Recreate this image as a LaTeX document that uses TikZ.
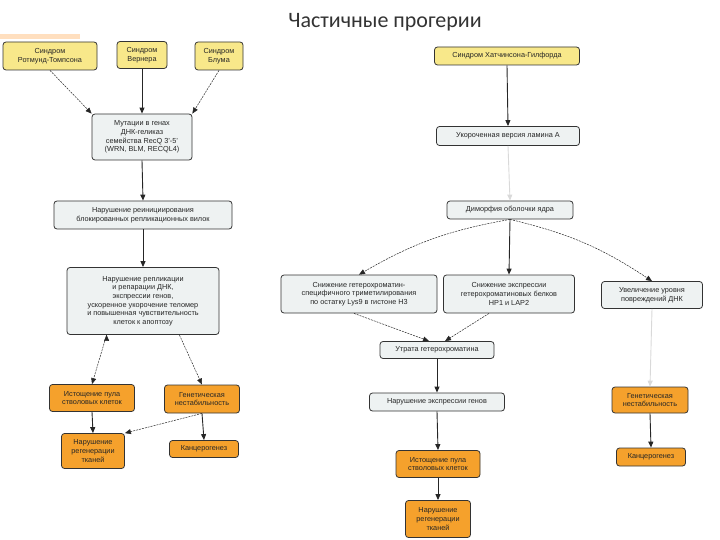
\documentclass[tikz,border=0pt]{standalone}
\usepackage{fontspec}
\setmainfont{Liberation Sans}
\newfontfamily\titlefont{Carlito}
\usetikzlibrary{arrows.meta}
\definecolor{ylw}{HTML}{F8E88A}
\definecolor{gry}{HTML}{EEF2F2}
\definecolor{org}{HTML}{F5A12C}
\begin{document}
\begin{tikzpicture}[x=1pt,y=-1pt,
  base/.style={draw=black!80,rounded corners=3pt,line width=0.8pt,align=center,inner sep=1pt,
    font=\fontsize{7.3}{8.6}\selectfont,text=black!85},
  yb/.style={base,fill=ylw},
  gb/.style={base,fill=gry},
  ob/.style={base,fill=org},
  arr/.style={-{Triangle[length=6pt,width=5pt]},line width=0.9pt,black!85},
  darr/.style={-{Triangle[length=6pt,width=5pt]},line width=0.5pt,black!85,dash pattern=on 2pt off 1pt},
  larr/.style={-{Triangle[length=6pt,width=5pt]},line width=0.9pt,black!85,draw=black!15}]
\useasboundingbox (0,0) rectangle (720,540);
\fill[orange!25] (0,34) rectangle (80,39);
\node[font=\titlefont\fontsize{22}{24}\selectfont,text=black!80] (title) at (385,22) {Частичные прогерии};
% left column
\node[yb,minimum width=94,minimum height=28] (a1) at (50,56) {Синдром\\Ротмунд-Томпсона};
\node[yb,minimum width=50,minimum height=27] (a2) at (142,55) {Синдром\\Вернера};
\node[yb,minimum width=48,minimum height=28] (a3) at (219,56) {Синдром\\Блума};
\node[gb,minimum width=100,minimum height=46] (m) at (142,137) {Мутации в генах\\ДНК-геликаз\\семейства RecQ 3'-5'\\(WRN, BLM, RECQL4)};
\node[gb,minimum width=178,minimum height=28] (n1) at (143,215) {Нарушение реинициирования\\блокированных репликационных вилок};
\node[gb,minimum width=152,minimum height=67] (n2) at (143,301) {Нарушение репликации\\и репарации ДНК,\\экспрессии генов,\\ускоренное укорочение теломер\\и повышенная чувствительность\\клеток к апоптозу};
\node[ob,minimum width=85,minimum height=27] (o1) at (92,398) {Истощение пула\\стволовых клеток};
\node[ob,minimum width=75,minimum height=28] (o2) at (202,399) {Генетическая\\нестабильность};
\node[ob,minimum width=63,minimum height=35] (o3) at (93,451) {Нарушение\\регенерации\\тканей};
\node[ob,minimum width=69,minimum height=17] (o4) at (204,449) {Канцерогенез};
% right column
\node[yb,minimum width=145,minimum height=18] (r1) at (507,56) {Синдром Хатчинсона-Гилфорда};
\node[gb,minimum width=143,minimum height=19] (r2) at (508,136) {Укороченная версия ламина А};
\node[gb,minimum width=126,minimum height=18] (r3) at (510,210) {Диморфия оболочки ядра};
\node[gb,minimum width=156,minimum height=38] (r4) at (359,294) {Снижение гетерохроматин-\\специфичного триметилирования\\по остатку Lys9 в гистоне H3};
\node[gb,minimum width=131,minimum height=38] (r5) at (509,294) {Снижение экспрессии\\гетерохроматиновых белков\\HP1 и LAP2};
\node[gb,minimum width=101,minimum height=27] (r6) at (652,295) {Увеличение уровня\\повреждений ДНК};
\node[gb,minimum width=114,minimum height=17] (r7) at (437,350) {Утрата гетерохроматина};
\node[gb,minimum width=135,minimum height=18] (r8) at (437,402) {Нарушение экспрессии генов};
\node[ob,minimum width=76,minimum height=26] (r9) at (650,400) {Генетическая\\нестабильность};
\node[ob,minimum width=84,minimum height=27] (r10) at (438,464) {Истощение пула\\стволовых клеток};
\node[ob,minimum width=65,minimum height=37] (r11) at (438,519) {Нарушение\\регенерации\\тканей};
\node[ob,minimum width=69,minimum height=18] (r12) at (651,457) {Канцерогенез};
% left arrows
\draw[darr] (a1.south) -- (m.north west);
\draw[arr] (a2.south) -- (m.north);
\draw[darr] (a3.south) -- (m.north east);
\draw[arr] (m.south) -- (n1.north);
\draw[arr] (n1.south) -- (n2.north);
\draw[darr] (n2.south west)++(40,0) coordinate (c1);
\draw[darr] (c1) -- (o1.north);
\draw[darr] ([xshift=-40]n2.south east) -- (o2.north);
\draw[arr] (o1.south) -- (o3.north);
\draw[darr] (o2.south) -- (o3.north east);
\draw[arr] (o2.south) -- (o4.north);
% right arrows
\draw[arr] (r1.south) -- (r2.north);
\draw[larr] (r2.south) -- (r3.north);
\draw[darr] (r3.south) to[bend right=10] (r4.north);
\draw[arr] (r3.south) -- (r5.north);
\draw[darr] (r3.south) to[bend left=10] (r6.north);
\draw[darr] ([xshift=-5]r4.south) -- ([xshift=-8]r7.north);
\draw[darr] ([xshift=-20]r5.south) -- ([xshift=8]r7.north);
\draw[arr] (r7.south) -- (r8.north);
\draw[arr] (r8.south) -- (r10.north);
\draw[arr] (r10.south) -- (r11.north);
\draw[larr] (r6.south) -- (r9.north);
\draw[arr] (r9.south) -- (r12.north);
\end{tikzpicture}
\end{document}
